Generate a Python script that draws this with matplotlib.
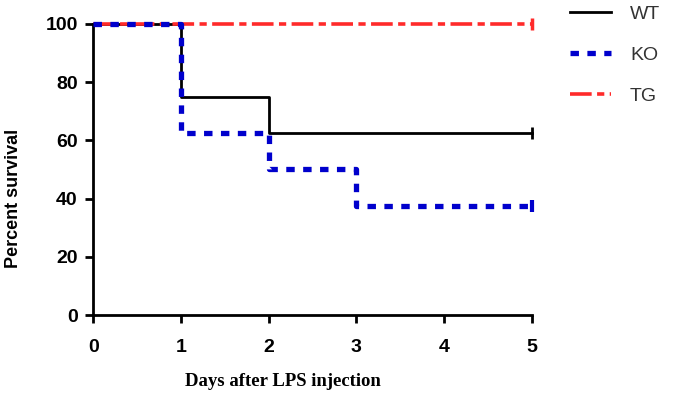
import matplotlib
matplotlib.use("Agg")
import matplotlib.pyplot as plt

# survival data (step curves)
days = [0, 1, 2, 3, 5]
wt = [100, 75, 62.5, 62.5, 62.5]
ko = [100, 62.5, 50, 37.5, 37.5]
tg = [100, 100, 100, 100, 100]
groups = ["WT", "KO", "TG"]

fig = plt.figure(figsize=(6.75, 4), dpi=100)
ax = fig.add_axes([0.138, 0.2125, 0.65, 0.728])

ax.step(days, tg, where="post", color="#ff2a2a", lw=2.6,
        dashes=(6, 1.5, 2, 1.5), label="TG", zorder=2, clip_on=False)
ax.step(days, ko, where="post", color="#0000cc", lw=3.8,
        dashes=(1.6, 1.6), label="KO", zorder=3, clip_on=False)
ax.step(days, wt, where="post", color="black", lw=2, label="WT", zorder=1,
        clip_on=False)

# censor marks at the end
ax.plot([5], [62.5], marker="|", ms=8, mew=2, color="black", clip_on=False)
ax.plot([5], [37.5], marker="|", ms=8, mew=3, color="#0000cc", clip_on=False)
ax.plot([5], [100], marker="|", ms=8, mew=2.5, color="#ff2a2a", clip_on=False)

ax.set_xlim(0, 5)
ax.set_ylim(0, 100)
ax.set_xticks(range(6))
ax.set_yticks(range(0, 101, 20))
for s in ["top", "right"]:
    ax.spines[s].set_visible(False)
for s in ["left", "bottom"]:
    ax.spines[s].set_linewidth(2)
ax.tick_params(width=2, length=6, labelsize=14)
ax.tick_params(axis="y", pad=5)
ax.tick_params(axis="x", pad=11)
for lab in ax.get_xticklabels() + ax.get_yticklabels():
    lab.set_fontfamily("Liberation Sans")
    lab.set_fontweight("bold")

ax.set_ylabel("Percent survival", fontsize=13, fontweight="bold",
              fontfamily="Liberation Sans")
ax.yaxis.set_label_coords(-0.162, 0.40)
ax.set_xlabel("Days after LPS injection", fontsize=13.5, fontweight="bold",
              fontfamily="Liberation Serif")
ax.xaxis.set_label_coords(0.433, -0.2)

handles, labels = ax.get_legend_handles_labels()
order = [labels.index(g) for g in groups]
leg = fig.legend([handles[i] for i in order], [labels[i] for i in order],
                 loc="upper left", bbox_to_anchor=(0.818, 1.03), frameon=False,
                 handlelength=2.15, labelspacing=1.2, handletextpad=0.95,
                 prop={"family": "Liberation Sans", "size": 14})
for t in leg.get_texts():
    t.set_color("#333333")

fig.savefig("out.png", dpi=100)
